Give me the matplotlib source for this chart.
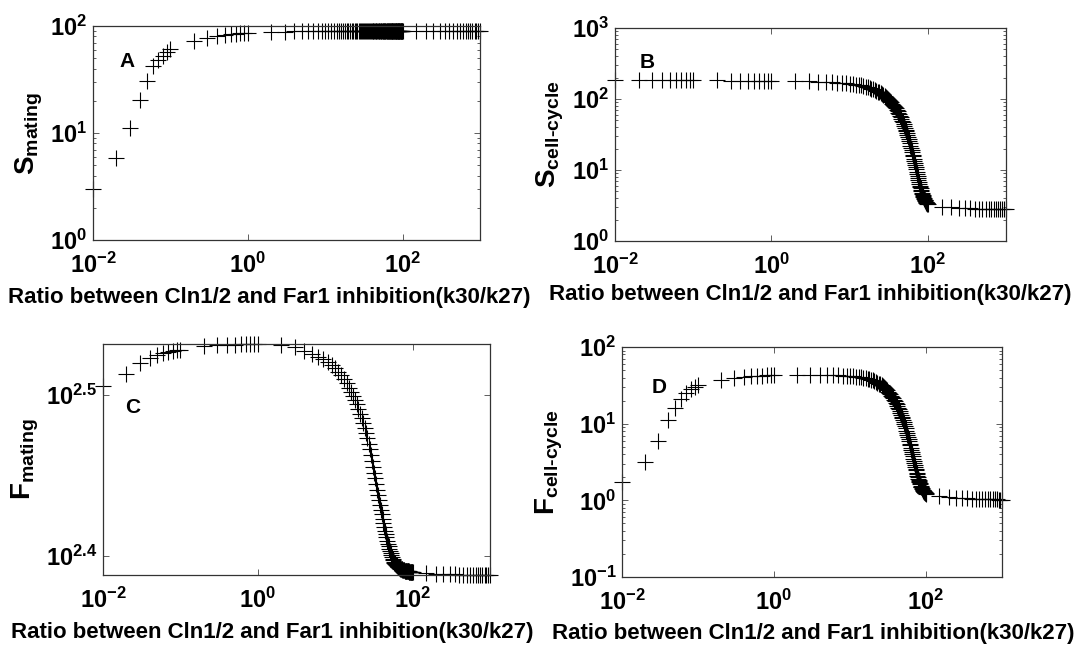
import numpy as np
import matplotlib
matplotlib.use("Agg")
import matplotlib.pyplot as plt
from matplotlib.ticker import FuncFormatter, FixedLocator, NullLocator, LogLocator

plt.rcParams['font.family'] = ['Liberation Sans', 'DejaVu Sans']
plt.rcParams['mathtext.fontset'] = 'custom'
plt.rcParams['mathtext.rm'] = 'Liberation Sans'
plt.rcParams['mathtext.bf'] = 'Liberation Sans:bold'
plt.rcParams['mathtext.it'] = 'Liberation Sans:italic'

# ---- x grid: ratio k30/k27 ----
x_low = [0.01, 0.02, 0.03, 0.04, 0.05, 0.06, 0.07, 0.08, 0.09, 0.1]
x_mid = [0.2, 0.3, 0.4, 0.5, 0.6, 0.7, 0.8, 0.9, 1.0]
x_dense = [2, 3, 4, 5, 6, 7, 8, 9, 10,
           11, 12, 13, 14, 15, 16, 17, 18, 19, 20,
           21, 22, 23, 24, 25, 26, 27, 28, 29, 30,
           31, 32, 33, 34, 35, 36, 37, 38, 39, 40,
           41, 42, 43, 44, 45, 46, 47, 48, 49, 50,
           51, 52, 53, 54, 55, 56, 57, 58, 59, 60,
           61, 62, 63, 64, 65, 66, 67, 68, 69, 70,
           71, 72, 73, 74, 75, 76, 77, 78, 79, 80,
           81, 82, 83, 84, 85, 86, 87, 88, 89, 90,
           91, 92, 93, 94, 95, 96, 97, 98, 99, 100]
x_high = [150, 200, 250, 300, 350, 400, 450, 500, 550,
          600, 650, 700, 750, 800, 850, 900, 950, 1000]

# ---- A: S_mating ----
sm_low = [3.0, 5.8, 11.2, 20.3, 30.6, 42, 48, 53, 57, 61]
sm_mid = [72, 77, 80, 82, 83.5, 84.5, 85.5, 86, 86.5]
sm_dense = [88.0, 88.8, 89.2, 89.5, 89.7, 89.8, 89.9, 90.0, 90.1,
            90.2, 90.2, 90.2, 90.2, 90.2, 90.2, 90.2, 90.2, 90.2, 90.2,
            90.3, 90.3, 90.3, 90.3, 90.3, 90.3, 90.3, 90.3, 90.3, 90.3,
            90.3, 90.3, 90.3, 90.3, 90.3, 90.3, 90.3, 90.3, 90.3, 90.3,
            90.4, 90.4, 90.4, 90.4, 90.4, 90.4, 90.4, 90.4, 90.4, 90.4,
            90.4, 90.4, 90.4, 90.4, 90.4, 90.4, 90.4, 90.4, 90.4, 90.4,
            90.4, 90.4, 90.4, 90.4, 90.4, 90.4, 90.4, 90.4, 90.4, 90.4,
            90.4, 90.4, 90.4, 90.4, 90.4, 90.4, 90.4, 90.4, 90.4, 90.4,
            90.4, 90.4, 90.4, 90.4, 90.4, 90.4, 90.4, 90.4, 90.4, 90.4,
            90.4, 90.4, 90.4, 90.4, 90.4, 90.4, 90.4, 90.4, 90.4, 90.4]
sm_high = [90.5, 90.5, 90.5, 90.5, 90.5, 90.5, 90.5, 90.5, 90.5,
           90.5, 90.5, 90.5, 90.5, 90.5, 90.5, 90.5, 90.5, 90.5]

# ---- B: S_cell-cycle ----
sc_low = [184, 184, 184, 183.8, 183.6, 183.5, 183.3, 183.2, 183, 183]
sc_mid = [182.5, 182.2, 182, 181.8, 181.6, 181.4, 181.2, 181, 180.8]
sc_dense = [180, 178, 176, 174, 172, 170, 168, 166, 164,
            162, 160, 157.5, 155, 152, 149, 146, 143, 140, 137,
            134, 131, 127.5, 124, 120.3, 116.7, 113, 109.7, 106.3, 103,
            99.7, 96.3, 93, 89.7, 86.3, 83, 80, 77, 74, 71,
            67.7, 64.5, 61.2, 58, 55.2, 52.5, 49.7, 47, 44.5, 42,
            39.5, 37, 35, 33, 31, 29, 27.2, 25.5, 23.7, 22,
            20.6, 19.2, 17.9, 16.5, 15.5, 14.5, 13.5, 12.5, 11.7, 11,
            10.2, 9.5, 8.9, 8.3, 7.7, 7.2, 6.8, 6.4, 6.0, 5.7,
            5.5, 5.2, 5.0, 4.8, 4.6, 4.45, 4.3, 4.15, 4.0, 3.9,
            3.82, 3.74, 3.66, 3.58, 3.5, 3.46, 3.42, 3.38, 3.34, 3.3]
sc_high = [3.05, 2.98, 2.93, 2.9, 2.88, 2.86, 2.85, 2.84, 2.83,
           2.82, 2.82, 2.81, 2.81, 2.8, 2.8, 2.8, 2.79, 2.79]

# ---- C: F_mating ----
fm_low = [320.1, 325.8, 331.0, 333.3, 334.6, 335.7, 336.3, 336.7, 337.0, 337.3]
fm_mid = [339.0, 339.4, 339.6, 339.7, 339.8, 339.8, 339.9, 339.9, 339.9]
fm_dense = [339.6, 338.5, 336.5, 335.3, 333.9, 332.6, 331.3, 329.8, 328.5,
            326.9, 325.2, 323.3, 321.4, 319.4, 317.4, 315.6, 313.8, 312.1, 309.9,
            307.8, 305.7, 303.6, 301.6, 299.3, 297.1, 294.8, 292.6, 290.2, 287.7,
            285.3, 282.9, 280.6, 278.3, 276.0, 273.8, 271.9, 270.1, 268.3, 266.6,
            264.8, 263.2, 261.8, 260.4, 259.1, 257.9, 256.7, 255.6, 254.6, 253.6,
            252.8, 252.0, 251.3, 250.6, 250.0, 249.5, 249.1, 248.7, 248.4, 248.1,
            247.9, 247.7, 247.5, 247.3, 247.1, 247.0, 246.9, 246.7, 246.6, 246.5,
            246.4, 246.3, 246.3, 246.2, 246.1, 246.1, 246.0, 246.0, 245.9, 245.9,
            245.8, 245.8, 245.8, 245.7, 245.7, 245.7, 245.6, 245.6, 245.6, 245.5,
            245.5, 245.5, 245.5, 245.4, 245.4, 245.4, 245.4, 245.3, 245.3, 245.3]
fm_high = [244.9, 244.8, 244.7, 244.6, 244.6, 244.5, 244.5, 244.5, 244.4,
           244.4, 244.4, 244.4, 244.3, 244.3, 244.3, 244.3, 244.3, 244.3]

# ---- D: F_cell-cycle ----
fc_low = [1.73, 3.2, 5.9, 11.0, 16.2, 21, 25, 28, 30, 31.6]
fc_mid = [36.7, 39.8, 41.0, 41.6, 42.0, 42.3, 42.5, 42.7, 42.9]
fc_dense = [43.5, 43.3, 43.1, 42.9, 42.7, 42.5, 42.3, 42.1, 41.8,
            41.5, 41.2, 40.8, 40.3, 39.8, 39.2, 38.6, 38.0, 37.3, 36.6,
            35.9, 35.1, 34.3, 33.4, 32.5, 31.7, 30.8, 29.9, 28.9, 28.0,
            27.1, 26.1, 25.2, 24.3, 23.3, 22.4, 21.5, 20.6, 19.7, 18.8,
            17.9, 17.0, 16.2, 15.4, 14.6, 13.9, 13.1, 12.4, 11.7, 11.1,
            10.4, 9.8, 9.2, 8.7, 8.1, 7.6, 7.2, 6.7, 6.3, 5.9,
            5.5, 5.2, 4.8, 4.5, 4.25, 4.0, 3.75, 3.5, 3.3, 3.1,
            2.9, 2.75, 2.6, 2.45, 2.3, 2.2, 2.1, 2.0, 1.92, 1.85,
            1.79, 1.73, 1.67, 1.61, 1.55, 1.51, 1.48, 1.44, 1.41, 1.38,
            1.36, 1.34, 1.32, 1.30, 1.28, 1.27, 1.25, 1.24, 1.23, 1.22]
fc_high = [1.13, 1.1, 1.08, 1.07, 1.06, 1.05, 1.05, 1.04, 1.04,
           1.04, 1.03, 1.03, 1.03, 1.03, 1.03, 1.02, 1.02, 1.02]

xlabel_text = "Ratio between Cln1/2 and Far1 inhibition(k30/k27)"
panel_letters = ["A", "B", "C", "D"]
ylabels = [r"$\mathbf{S_{mating}}$", "$\\mathbf{S_{cell\u2010cycle}}$",
           r"$\mathbf{F_{mating}}$", "$\\mathbf{F_{cell\u2010cycle}}$"]

x_all = x_low + x_mid + x_dense + x_high
series = [sm_low + sm_mid + sm_dense + sm_high,
          sc_low + sc_mid + sc_dense + sc_high,
          fm_low + fm_mid + fm_dense + fm_high,
          fc_low + fc_mid + fc_dense + fc_high]

W, H = 1084, 646
fig = plt.figure(figsize=(W / 100, H / 100), dpi=100)
fig.patch.set_facecolor('white')

# axes boxes in pixel coords: left, right, top, bottom
boxes = [(93, 480, 26, 240), (615, 1006, 28, 241),
         (103, 490, 344, 575), (622, 1002, 347, 577)]
ylims = [(1, 100), (1, 1000), (10 ** 2.388, 10 ** 2.5315), (0.1, 100)]
letter_pos = [(0.088, 0.832), (0.082, 0.84), (0.078, 0.723), (0.098, 0.826)]
ylab_x = [-0.125, -0.125, -0.16, -0.15]
xlab_pos = [(0.455, -0.22), (0.5, -0.2), (0.437, -0.205), (0.503, -0.2)]

def pow_fmt(v, p):
    e = np.log10(v)
    if abs(e - round(e)) < 1e-6:
        s = '%d' % int(round(e))
    else:
        s = '%g' % round(e, 2)
    return r'$\mathbf{10^{%s}}$' % s

for i, (l, r, t, b) in enumerate(boxes):
    ax = fig.add_axes([l / W, 1 - b / H, (r - l) / W, (b - t) / H])
    ax.plot(x_all, series[i], linestyle='none', marker='+', color='black',
            markersize=11, markeredgewidth=0.8, clip_on=False)
    ax.set_xscale('log')
    ax.set_yscale('log')
    ax.set_xlim(1e-2, 1e3)
    ax.set_ylim(*ylims[i])
    ax.xaxis.set_major_locator(FixedLocator([1e-2, 1e0, 1e2]))
    ax.xaxis.set_minor_locator(NullLocator())
    ax.xaxis.set_major_formatter(FuncFormatter(pow_fmt))
    if i == 2:
        ax.yaxis.set_major_locator(FixedLocator([10 ** 2.4, 10 ** 2.5]))
        ax.yaxis.set_minor_locator(NullLocator())
    else:
        ax.yaxis.set_major_locator(LogLocator(base=10, numticks=10))
        ax.yaxis.set_minor_locator(LogLocator(base=10, subs=np.arange(2, 10), numticks=10))
    ax.yaxis.set_major_formatter(FuncFormatter(pow_fmt))
    ax.yaxis.set_minor_formatter(FuncFormatter(lambda v, p: ''))
    ax.tick_params(which='both', direction='in', top=True, right=True,
                   labelsize=17, width=0.6, color='#444444')
    ax.tick_params(which='major', length=4)
    ax.tick_params(axis='x', which='major', pad=9)
    ax.tick_params(axis='y', which='major', pad=4)
    ax.tick_params(which='minor', length=2)
    for sp in ax.spines.values():
        sp.set_linewidth(0.9)
        sp.set_color('#333333')
    ax.set_xlabel(xlabel_text, fontsize=16, fontweight='bold')
    ax.xaxis.set_label_coords(*xlab_pos[i])
    ax.set_ylabel(ylabels[i], fontsize=20)
    ax.yaxis.set_label_coords(ylab_x[i], 0.5)
    ax.text(letter_pos[i][0], letter_pos[i][1], panel_letters[i],
            transform=ax.transAxes, fontsize=15, fontweight='bold',
            ha='center', va='center')

fig.savefig('out.png', dpi=100, facecolor='white')
